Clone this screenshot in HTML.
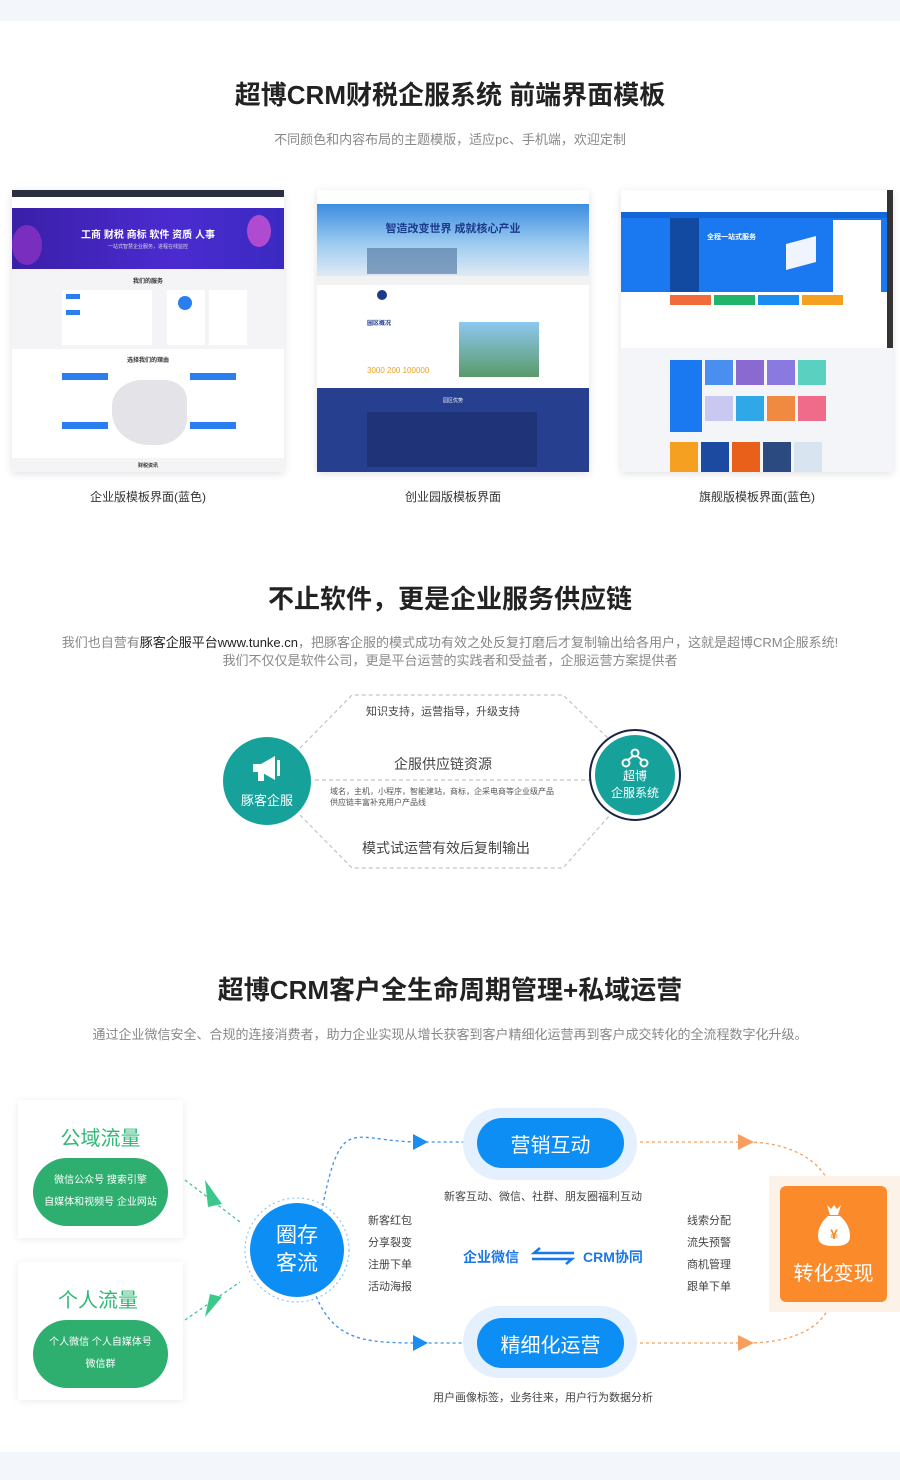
<!DOCTYPE html>
<html><head><meta charset="utf-8"><style>
*{margin:0;padding:0;box-sizing:border-box}
body{width:900px;height:1480px;background:#fff;position:relative;overflow:hidden;font-family:"Liberation Sans","Noto Sans CJK SC",sans-serif;color:#333}
.a{position:absolute}
.t{position:absolute;left:0;width:900px;text-align:center}
h2{font-size:26px;font-weight:bold;color:#222}
.sub{font-size:13px;color:#888}
.cap{font-size:12px;color:#333;text-align:center;width:272px}
.c{display:flex;align-items:center;justify-content:center;text-align:center}
.sh{box-shadow:0 2px 8px rgba(0,0,0,.12)}
</style></head><body>
<div class="a" style="left:0;top:0;width:900px;height:21px;background:#f3f6fb"></div>
<div class="a" style="left:0;top:1452px;width:900px;height:28px;background:#f3f6fb"></div>

<div class="t" style="top:75px"><h2>超博CRM财税企服系统 前端界面模板</h2></div>
<div class="t sub" style="top:129px">不同颜色和内容布局的主题模版，适应pc、手机端，欢迎定制</div>

<!-- template 1 -->
<div class="a sh" style="left:12px;top:190px;width:272px;height:282px;background:#fff;overflow:hidden">
<div class="a" style="left:0;top:0;width:272px;height:7px;background:#2b3040"></div>
<div class="a" style="left:0;top:18px;width:272px;height:61px;background:linear-gradient(90deg,#3a1fa8,#4b2bd0 60%,#3a2ac0)"></div>
<div class="a" style="left:235px;top:25px;width:24px;height:32px;border-radius:50%;background:#b04ad0"></div>
<div class="a" style="left:0;top:35px;width:30px;height:40px;border-radius:50%;background:#7a2ec0"></div>
<div class="a" style="left:0;top:36px;width:272px;text-align:center;color:#fff;font-size:10px;font-weight:bold">工商 财税 商标 软件 资质 人事</div>
<div class="a" style="left:0;top:53px;width:272px;text-align:center;color:#ddd;font-size:5px">一站式智慧企业服务，进程在线监控</div>
<div class="a" style="left:0;top:79px;width:272px;height:80px;background:#f4f4f6"></div>
<div class="a" style="left:0;top:86px;width:272px;text-align:center;font-size:6px;font-weight:bold">我们的服务</div>
<div class="a" style="left:50px;top:100px;width:90px;height:55px;background:#fff"></div>
<div class="a" style="left:155px;top:100px;width:38px;height:55px;background:#fff"></div>
<div class="a" style="left:166px;top:106px;width:14px;height:14px;border-radius:50%;background:#2a7ef0"></div>
<div class="a" style="left:197px;top:100px;width:38px;height:55px;background:#fff"></div>
<div class="a" style="left:54px;top:104px;width:14px;height:5px;background:#2a7ef0"></div>
<div class="a" style="left:54px;top:120px;width:14px;height:5px;background:#2a7ef0"></div>
<div class="a" style="left:0;top:165px;width:272px;text-align:center;font-size:6px;font-weight:bold">选择我们的理由</div>
<div class="a" style="left:100px;top:190px;width:75px;height:65px;background:#e4e4e8;border-radius:40% 30% 40% 50%"></div>
<div class="a" style="left:50px;top:183px;width:46px;height:7px;background:#2a7ef0"></div>
<div class="a" style="left:178px;top:183px;width:46px;height:7px;background:#2a7ef0"></div>
<div class="a" style="left:50px;top:232px;width:46px;height:7px;background:#2a7ef0"></div>
<div class="a" style="left:178px;top:232px;width:46px;height:7px;background:#2a7ef0"></div>
<div class="a" style="left:0;top:268px;width:272px;height:14px;background:#f4f4f6"></div>
<div class="a" style="left:0;top:272px;width:272px;text-align:center;font-size:5px;font-weight:bold">财税资讯</div>
</div>
<div class="a cap" style="left:12px;top:488px">企业版模板界面(蓝色)</div>

<!-- template 2 -->
<div class="a sh" style="left:317px;top:190px;width:272px;height:282px;background:#fff;overflow:hidden">
<div class="a" style="left:0;top:14px;width:272px;height:72px;background:linear-gradient(180deg,#3d8de0,#9ccbf0 55%,#dfeaf4)"></div>
<div class="a" style="left:50px;top:58px;width:90px;height:26px;background:#5a7fa8;opacity:.7"></div>
<div class="a" style="left:0;top:30px;width:272px;text-align:center;color:#1c3a8c;font-size:11px;font-weight:bold">智造改变世界 成就核心产业</div>
<div class="a" style="left:0;top:86px;width:272px;height:9px;background:#f2f2f2"></div>
<div class="a" style="left:60px;top:100px;width:10px;height:10px;border-radius:50%;background:#1c3a8c"></div>
<div class="a" style="left:50px;top:128px;font-size:6px;color:#1c3a8c;font-weight:bold">园区概况</div>
<div class="a" style="left:142px;top:132px;width:80px;height:55px;background:linear-gradient(180deg,#8ec8f0,#5a9a6a)"></div>
<div class="a" style="left:50px;top:176px;font-size:8px;color:#f0a020">3000 200 100000</div>
<div class="a" style="left:0;top:198px;width:272px;height:84px;background:#263f8e"></div>
<div class="a" style="left:50px;top:222px;width:170px;height:55px;background:#1f3478"></div>
<div class="a" style="left:0;top:207px;width:272px;text-align:center;color:#fff;font-size:5px">园区优势</div>
</div>
<div class="a cap" style="left:317px;top:488px">创业园版模板界面</div>

<!-- template 3 -->
<div class="a sh" style="left:621px;top:190px;width:272px;height:282px;background:#fff;overflow:hidden">
<div class="a" style="left:0;top:22px;width:266px;height:80px;background:#1a78f0"></div>
<div class="a" style="left:0;top:22px;width:266px;height:6px;background:#1466d8"></div>
<div class="a" style="left:49px;top:28px;width:29px;height:74px;background:#114aa0"></div>
<div class="a" style="left:86px;top:42px;color:#fff;font-size:7px;font-weight:bold">全程一站式服务</div>
<div class="a" style="left:165px;top:50px;width:30px;height:26px;background:#f0f4ff;transform:skewY(-15deg)"></div>
<div class="a" style="left:212px;top:30px;width:48px;height:72px;background:#fff"></div>
<div class="a" style="left:266px;top:0;width:6px;height:158px;background:#333"></div>
<div class="a" style="left:49px;top:105px;width:41px;height:10px;background:#f26b3a"></div>
<div class="a" style="left:93px;top:105px;width:41px;height:10px;background:#20b56a"></div>
<div class="a" style="left:137px;top:105px;width:41px;height:10px;background:#1a8ef0"></div>
<div class="a" style="left:181px;top:105px;width:41px;height:10px;background:#f5a020"></div>
<div class="a" style="left:0;top:158px;width:272px;height:124px;background:#f4f5f8"></div>
<div class="a" style="left:49px;top:170px;width:32px;height:72px;background:#1a78f0"></div>
<div class="a" style="left:84px;top:170px;width:28px;height:25px;background:#4a8ef0"></div>
<div class="a" style="left:115px;top:170px;width:28px;height:25px;background:#8a6ad0"></div>
<div class="a" style="left:146px;top:170px;width:28px;height:25px;background:#8a7ae0"></div>
<div class="a" style="left:177px;top:170px;width:28px;height:25px;background:#5ad0c0"></div>
<div class="a" style="left:84px;top:206px;width:28px;height:25px;background:#c8c8f0"></div>
<div class="a" style="left:115px;top:206px;width:28px;height:25px;background:#30a8e8"></div>
<div class="a" style="left:146px;top:206px;width:28px;height:25px;background:#f08a40"></div>
<div class="a" style="left:177px;top:206px;width:28px;height:25px;background:#f06a8a"></div>
<div class="a" style="left:49px;top:252px;width:28px;height:30px;background:#f5a020"></div>
<div class="a" style="left:80px;top:252px;width:28px;height:30px;background:#1c4aa0"></div>
<div class="a" style="left:111px;top:252px;width:28px;height:30px;background:#e8601a"></div>
<div class="a" style="left:142px;top:252px;width:28px;height:30px;background:#2a4a80"></div>
<div class="a" style="left:173px;top:252px;width:28px;height:30px;background:#d8e4f0"></div>
</div>
<div class="a cap" style="left:621px;top:488px">旗舰版模板界面(蓝色)</div>

<!-- section 2 -->
<div class="t" style="top:579px"><h2>不止软件，更是企业服务供应链</h2></div>
<div class="t sub" style="top:632px">我们也自营有<span style="color:#222">豚客企服平台www.tunke.cn</span>，把豚客企服的模式成功有效之处反复打磨后才复制输出给各用户，这就是超博CRM企服系统!</div>
<div class="t sub" style="top:650px">我们不仅仅是软件公司，更是平台运营的实践者和受益者，企服运营方案提供者</div>

<svg class="a" style="left:0;top:0" width="900" height="1480">
<g fill="none" stroke="#c4c4c4" stroke-width="1.2" stroke-dasharray="4 3">
<polyline points="300,748 352,695 563,695 610,740"/>
<polyline points="300,815 352,868 563,868 610,815"/>
<line x1="315" y1="780" x2="590" y2="780"/>
</g>
</svg>
<div class="a c" style="left:223px;top:737px;width:88px;height:88px;border-radius:50%;background:#16a19a;color:#fff;font-size:13px;flex-direction:column">
<svg width="34" height="30" viewBox="0 0 34 30"><path d="M3 10h8l14-8v24l-14-8H3z" fill="#fff"/><rect x="8" y="18" width="6" height="9" fill="#fff"/><rect x="27" y="6" width="3" height="16" fill="#fff"/></svg>
<div style="margin-top:6px">豚客企服</div></div>
<div class="a" style="left:589px;top:729px;width:92px;height:92px;border-radius:50%;border:2.5px solid #1a2444;background:#fff"></div>
<div class="a c" style="left:595px;top:735px;width:80px;height:80px;border-radius:50%;background:#16a19a;color:#fff;font-size:12px;flex-direction:column;line-height:17px">
<svg width="28" height="20" viewBox="0 0 28 20"><g fill="none" stroke="#fff" stroke-width="2"><circle cx="14" cy="5" r="3.5"/><circle cx="5" cy="15" r="3.5"/><circle cx="23" cy="15" r="3.5"/><path d="M12 8l-5 4M16 8l5 4"/></g></svg>
<div>超博</div><div>企服系统</div></div>
<div class="a" style="left:366px;top:703px;font-size:11px;color:#444">知识支持，运营指导，升级支持</div>
<div class="a" style="left:394px;top:754px;font-size:14px;color:#444">企服供应链资源</div>
<div class="a" style="left:330px;top:786px;font-size:8px;color:#555;line-height:11px">域名，主机，小程序，智能建站，商标，企采电商等企业级产品<br>供应链丰富补充用户产品线</div>
<div class="a" style="left:362px;top:838px;font-size:14px;color:#444">模式试运营有效后复制输出</div>

<!-- section 3 -->
<div class="t" style="top:970px"><h2>超博CRM客户全生命周期管理+私域运营</h2></div>
<div class="t sub" style="top:1024px">通过企业微信安全、合规的连接消费者，助力企业实现从增长获客到客户精细化运营再到客户成交转化的全流程数字化升级。</div>

<div class="a" style="left:18px;top:1100px;width:165px;height:138px;background:#fff;box-shadow:0 1px 8px rgba(0,0,0,.08)"></div>
<div class="a" style="left:18px;top:1122px;width:165px;text-align:center;color:#2fb878;font-size:20px">公域流量</div>
<div class="a c" style="left:33px;top:1158px;width:135px;height:68px;border-radius:34px;background:#2eae6f;color:#fff;font-size:10px;line-height:22px;flex-direction:column"><div>微信公众号 搜索引擎</div><div>自媒体和视频号 企业网站</div></div>
<div class="a" style="left:18px;top:1262px;width:165px;height:138px;background:#fff;box-shadow:0 1px 8px rgba(0,0,0,.08)"></div>
<div class="a" style="left:18px;top:1284px;width:160px;text-align:center;color:#2fb878;font-size:20px">个人流量</div>
<div class="a c" style="left:33px;top:1320px;width:135px;height:68px;border-radius:34px;background:#2eae6f;color:#fff;font-size:10px;line-height:22px;flex-direction:column"><div>个人微信 个人自媒体号</div><div>微信群</div></div>

<svg class="a" style="left:0;top:0" width="900" height="1480">
<g fill="none" stroke-width="1.3" stroke-dasharray="3 3">
<path d="M185 1180 L240 1222" stroke="#3cc88a"/>
<path d="M185 1320 L240 1282" stroke="#3cc88a"/>
<path d="M312 1265 C340 1100,340 1142,420 1142 L470 1142" stroke="#3a90f0"/>
<path d="M312 1285 C330 1340,360 1343,420 1343 L470 1343" stroke="#3a90f0"/>
<path d="M628 1142 L745 1142 C790 1142,820 1160,830 1185" stroke="#f5a060"/>
<path d="M628 1343 L745 1343 C790 1343,820 1330,830 1305" stroke="#f5a060"/>
</g>
<polygon points="205,1180 222,1204 208,1207" fill="#3cc88a"/>
<polygon points="205,1317 222,1297 210,1294" fill="#3cc88a"/>
<polygon points="413,1134 428,1142 413,1150" fill="#1a8ef0"/>
<polygon points="413,1335 428,1343 413,1351" fill="#1a8ef0"/>
<polygon points="738,1134 754,1142 738,1150" fill="#f5a060"/>
<polygon points="738,1335 754,1343 738,1351" fill="#f5a060"/>
<circle cx="297" cy="1250" r="52" fill="none" stroke="#8cc4f8" stroke-width="1.2" stroke-dasharray="2 3"/>
</svg>
<div class="a c" style="left:250px;top:1203px;width:94px;height:94px;border-radius:50%;background:#0c8ef5;color:#fff;font-size:21px;line-height:28px;flex-direction:column"><div>圈存</div><div>客流</div></div>

<div class="a" style="left:463px;top:1108px;width:174px;height:72px;border-radius:36px;background:#e4f0fd"></div>
<div class="a c" style="left:477px;top:1118px;width:147px;height:50px;border-radius:25px;background:#0c8ef5;color:#fff;font-size:20px">营销互动</div>
<div class="a" style="left:444px;top:1188px;font-size:11px;color:#444">新客互动、微信、社群、朋友圈福利互动</div>
<div class="a" style="left:463px;top:1306px;width:174px;height:72px;border-radius:36px;background:#e4f0fd"></div>
<div class="a c" style="left:477px;top:1318px;width:147px;height:50px;border-radius:25px;background:#0c8ef5;color:#fff;font-size:20px">精细化运营</div>
<div class="a" style="left:433px;top:1389px;font-size:11px;color:#444">用户画像标签，业务往来，用户行为数据分析</div>

<div class="a" style="left:368px;top:1210px;font-size:11px;color:#444;line-height:22px">新客红包<br>分享裂变<br>注册下单<br>活动海报</div>
<div class="a" style="left:687px;top:1210px;font-size:11px;color:#444;line-height:22px">线索分配<br>流失预警<br>商机管理<br>跟单下单</div>
<div class="a" style="left:463px;top:1247px;font-size:14px;font-weight:bold;color:#1a78e8">企业微信</div>
<svg class="a" style="left:530px;top:1247px" width="46" height="18"><g stroke="#1a78e8" stroke-width="2.5" fill="none"><path d="M44 6H4l6-5"/><path d="M2 12h40l-6 5"/></g></svg>
<div class="a" style="left:583px;top:1247px;font-size:14px;font-weight:bold;color:#1a78e8">CRM协同</div>

<div class="a" style="left:769px;top:1176px;width:131px;height:136px;background:#fdf2e8"></div>
<div class="a c" style="left:780px;top:1186px;width:107px;height:116px;border-radius:6px;background:#fa8a2a;color:#fff;font-size:20px;flex-direction:column">
<svg width="32" height="44" viewBox="0 0 32 44"><path d="M9 2l4 4 3-4 3 4 4-4-3 10H12z" fill="#fff"/><path d="M10 13h12c6 5,10 12,10 20 0 8-6 10-16 10S0 41,0 33c0-8,4-15,10-20z" fill="#fff"/><text x="16" y="36" font-size="14" font-weight="bold" fill="#fa8a2a" text-anchor="middle" font-family="Liberation Sans">¥</text></svg>
<div style="margin-top:10px">转化变现</div></div>
</body></html>
